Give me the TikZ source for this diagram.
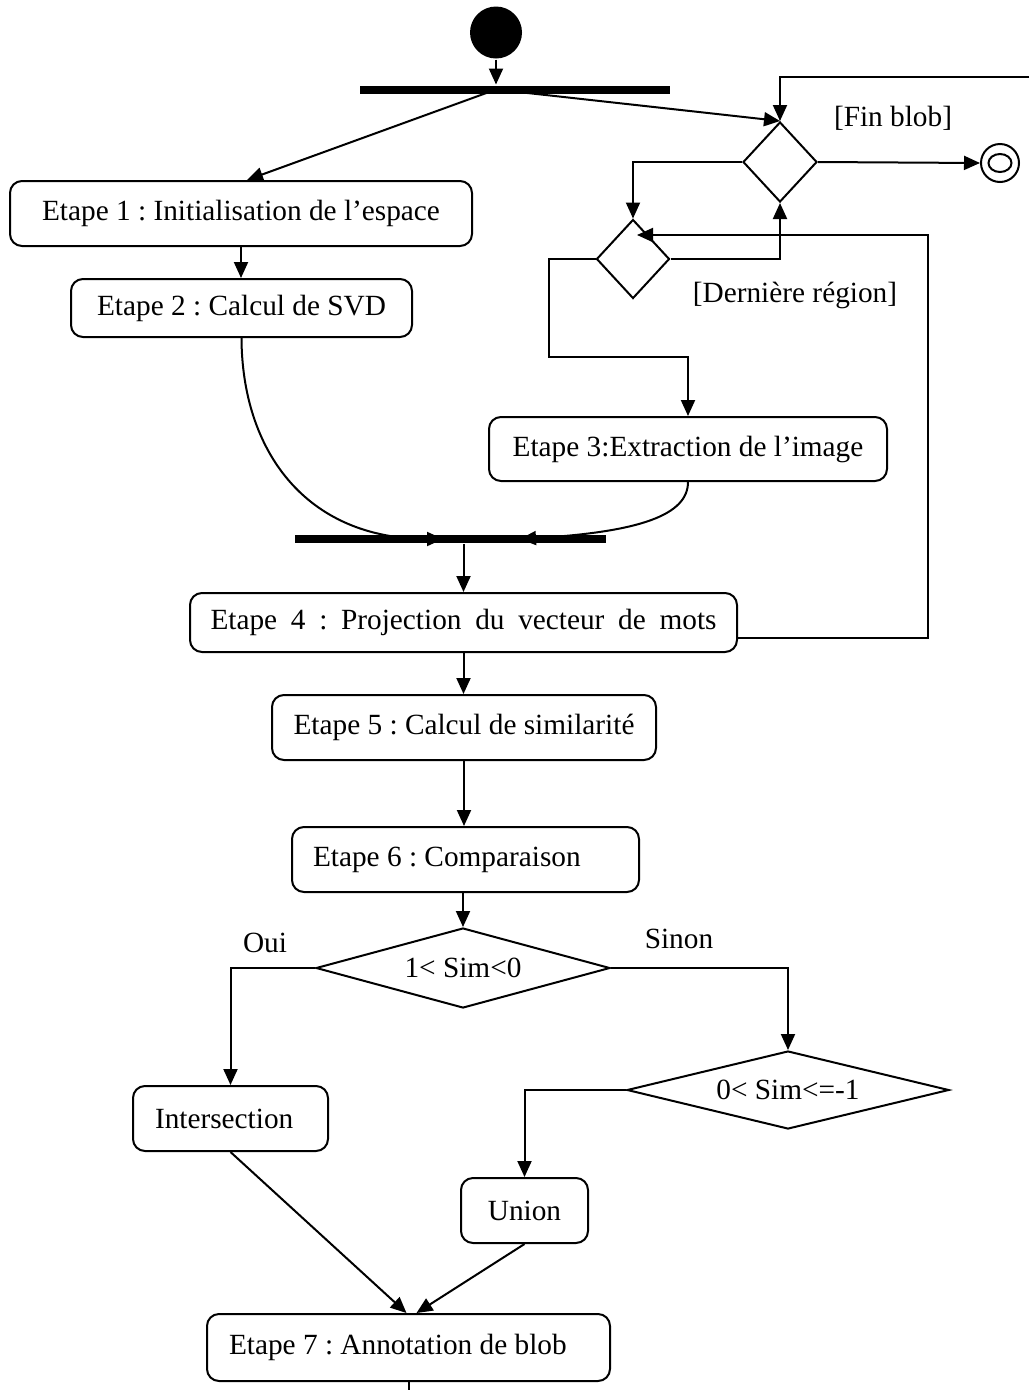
\documentclass[tikz,border=0pt]{standalone}
\usepackage{fontspec}
\setmainfont{Liberation Serif}
\usetikzlibrary{arrows.meta,shapes.geometric,calc}
\frenchspacing

\begin{document}
\begin{tikzpicture}[x=1pt, y=-1pt, line width=2pt,
  font=\fontsize{29.3}{34}\selectfont,
  stage/.style={draw, rounded corners=12pt, inner sep=0pt, align=center},
  leftstage/.style={draw, rounded corners=12pt, inner ysep=0pt, inner xsep=#1},
  decision/.style={draw, diamond, inner sep=0pt},
  syncbar/.style={fill, inner sep=0pt, minimum height=8pt},
  flow/.style={-{Triangle[length=16pt,width=14pt]}},
  guard/.style={inner sep=0pt}]
\useasboundingbox (0,0) rectangle (1029,1390);

% initial state and first fork
\node[circle, fill, minimum size=52pt, inner sep=0pt] (start) at (496,32.5) {};
\node[syncbar, minimum width=310pt] (fork1) at (515,89.5) {};
\draw[flow] (start.south) -- (start.south |- fork1.north);

% activities
\node[stage, minimum width=462pt, minimum height=65pt] (e1) at (241,213.5) {Etape 1 : Initialisation de l’espace};
\node[stage, minimum width=341pt, minimum height=58pt] (e2) at (241.5,308) {Etape 2 : Calcul de SVD};
\node[stage, minimum width=398pt, minimum height=64pt] (e3) at (688,449) {Etape 3:Extraction de l’image};
\node[syncbar, minimum width=311pt] (fork2) at (450.5,539) {};
\node[stage, minimum width=547pt, minimum height=59pt] (e4) at (463.5,622.5)
  {\makebox[506pt][s]{Etape 4 : Projection du vecteur de mots}};
\node[stage, minimum width=384pt, minimum height=65pt] (e5) at (464,727.5) {Etape 5 : Calcul de similarité};
\node[leftstage=21pt, minimum height=65pt] (e6) at (465.5,859.5) {\makebox[305pt][l]{Etape 6 : Comparaison}};

% decisions of the region loop
\node[decision, minimum width=74pt, minimum height=80pt] (d1) at (780,162) {};
\node[decision, minimum width=73pt, minimum height=79pt] (d2) at (633,259) {};
\node[circle, draw, minimum size=38pt, inner sep=0pt] (final) at (1000,163) {};
\draw (final.center) ellipse [x radius=11.5pt, y radius=9pt];

% similarity decisions
\node[decision, shape aspect=3.7, minimum width=294pt, minimum height=80pt] (c1) at (463,968) {1< Sim<0};
\node[decision, shape aspect=4.1, minimum width=322pt, minimum height=78pt] (c2) at (788,1090) {0< Sim<=-1};
\node[leftstage=22pt, minimum height=65pt] (inter) at (230.5,1118.5) {\makebox[151pt][l]{Intersection}};
\node[stage, minimum width=127pt, minimum height=65pt] (union) at (524.5,1210.5) {Union};
\node[leftstage=22pt, minimum height=67pt] (e7) at (408.5,1347.5) {\makebox[359pt][l]{Etape 7 : Annotation de blob}};

% guards
\node[guard] (gfin) at (893,118) {[Fin blob]};
\node[guard] (gder) at (795,295) {[Dernière région]};
\node[guard] (goui) at (265,943) {Oui};
\node[guard] (gsin) at (679,939) {Sinon};

% helper points
\coordinate (loopin) at (1029,77);
\coordinate (k1) at (549,357);
\coordinate (k2) at (928,235);
\coordinate (d2in) at (637,235);
\coordinate (e4out) at ($(e4.south east)+(0,-15)$);
\coordinate (out) at (408.5,1390);

% fork 1 outputs
\draw[flow] (start.south |- fork1.center) -- ($(e1.north)+(6,0)$);
\draw[flow] (start.south |- fork1.center) -- (d1.north);
\draw[flow] (loopin) -| (d1.north);
\draw[flow] (d1.east) -- (final.west);
\draw[flow] (d1.west) -| (d2.north);
\draw[flow] (d2.east) -| (d1.south);
\draw[flow] (d2.west) -| (k1) -| (e3.north);
\draw[flow] (e4out) -| (k2) -- (d2in);

% main chain
\draw[flow] (e1.south) -- (e1.south |- e2.north);
\draw[flow] (e2.south) .. controls (242,450) and (305,539) .. (443,539);
\draw[flow] (e3.south) .. controls (688,515) and (640,532) .. (520,539);
\draw[flow] (e4.north |- fork2.south) -- (e4.north);
\draw[flow] (e4.south) -- (e4.south |- e5.north);
\draw[flow] (e5.south) -- (e5.south |- e6.north);
\draw[flow] (c1.north |- e6.south) -- (c1.north);
\draw[flow] (c1.west) -| (inter.north);
\draw[flow] (c1.east) -| (c2.north);
\draw[flow] (c2.west) -| (union.north);
\draw[flow] (inter.south) -- ($(e7.north)+(-2,0)$);
\draw[flow] (union.south) -- ($(e7.north)+(8,0)$);
\draw (e7.south) -- (out);
\end{tikzpicture}
\end{document}
